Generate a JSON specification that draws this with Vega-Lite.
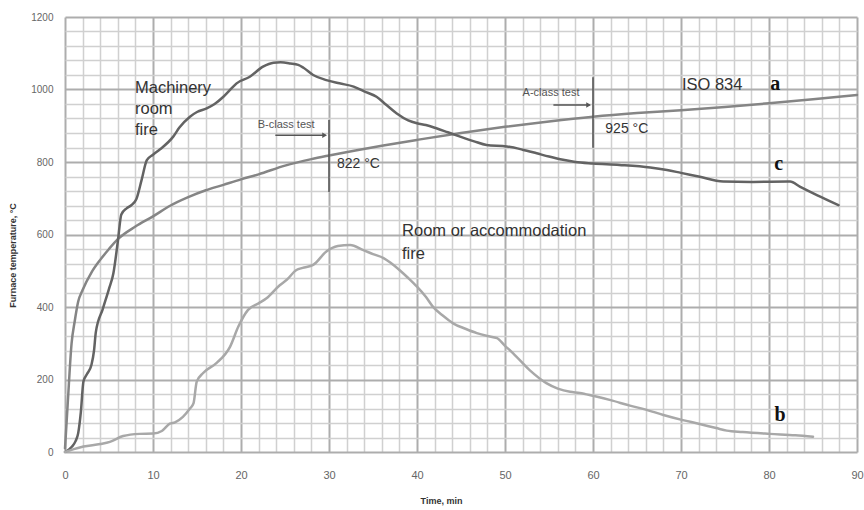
{
  "$schema": "https://vega.github.io/schema/vega-lite/v6.json",
  "width": 792,
  "height": 435,
  "autosize": {"type": "none"},
  "padding": {"left": 65, "top": 17, "right": 7, "bottom": 58},
  "background": "white",
  "config": {"view": {"stroke": null}, "font": "Liberation Sans"},
  "datasets": {
    "curves": [
      {"series": "a", "t": 0, "T": 10}, {"series": "a", "t": 0.3, "T": 130}, {"series": "a", "t": 0.75, "T": 300}, {"series": "a", "t": 1.1, "T": 360}, {"series": "a", "t": 1.5, "T": 415}, {"series": "a", "t": 2, "T": 447}, {"series": "a", "t": 3, "T": 495}, {"series": "a", "t": 4, "T": 530}, {"series": "a", "t": 5, "T": 560}, {"series": "a", "t": 6, "T": 587}, {"series": "a", "t": 8, "T": 622}, {"series": "a", "t": 10, "T": 650}, {"series": "a", "t": 12, "T": 680}, {"series": "a", "t": 14, "T": 703}, {"series": "a", "t": 16, "T": 722}, {"series": "a", "t": 18, "T": 737}, {"series": "a", "t": 20, "T": 752}, {"series": "a", "t": 22, "T": 766}, {"series": "a", "t": 25, "T": 790}, {"series": "a", "t": 28, "T": 808}, {"series": "a", "t": 30, "T": 818}, {"series": "a", "t": 33, "T": 832}, {"series": "a", "t": 36, "T": 845}, {"series": "a", "t": 40, "T": 861}, {"series": "a", "t": 45, "T": 880}, {"series": "a", "t": 50, "T": 897}, {"series": "a", "t": 55, "T": 912}, {"series": "a", "t": 60, "T": 925}, {"series": "a", "t": 65, "T": 935}, {"series": "a", "t": 70, "T": 943}, {"series": "a", "t": 75, "T": 952}, {"series": "a", "t": 80, "T": 962}, {"series": "a", "t": 85, "T": 973}, {"series": "a", "t": 90, "T": 985},
      {"series": "c", "t": 0, "T": 0}, {"series": "c", "t": 0.5, "T": 8}, {"series": "c", "t": 0.8, "T": 15}, {"series": "c", "t": 1.2, "T": 30}, {"series": "c", "t": 1.5, "T": 52}, {"series": "c", "t": 1.8, "T": 110}, {"series": "c", "t": 2.1, "T": 195}, {"series": "c", "t": 2.5, "T": 215}, {"series": "c", "t": 3.0, "T": 240}, {"series": "c", "t": 3.3, "T": 280}, {"series": "c", "t": 3.5, "T": 330}, {"series": "c", "t": 4.3, "T": 395}, {"series": "c", "t": 5.0, "T": 450}, {"series": "c", "t": 5.5, "T": 493}, {"series": "c", "t": 6.0, "T": 580}, {"series": "c", "t": 6.4, "T": 655}, {"series": "c", "t": 7.0, "T": 672}, {"series": "c", "t": 7.5, "T": 680}, {"series": "c", "t": 8.1, "T": 697}, {"series": "c", "t": 8.7, "T": 750}, {"series": "c", "t": 9.3, "T": 805}, {"series": "c", "t": 10, "T": 820}, {"series": "c", "t": 10.8, "T": 835}, {"series": "c", "t": 12.3, "T": 870}, {"series": "c", "t": 13, "T": 895}, {"series": "c", "t": 14.2, "T": 925}, {"series": "c", "t": 15, "T": 938}, {"series": "c", "t": 16.1, "T": 948}, {"series": "c", "t": 17, "T": 960}, {"series": "c", "t": 18, "T": 980}, {"series": "c", "t": 19, "T": 1005}, {"series": "c", "t": 19.5, "T": 1017}, {"series": "c", "t": 21, "T": 1035}, {"series": "c", "t": 22.5, "T": 1063}, {"series": "c", "t": 23.7, "T": 1074}, {"series": "c", "t": 24.5, "T": 1075}, {"series": "c", "t": 25.6, "T": 1072}, {"series": "c", "t": 26.5, "T": 1068}, {"series": "c", "t": 27.1, "T": 1060}, {"series": "c", "t": 28.2, "T": 1040}, {"series": "c", "t": 29.7, "T": 1026}, {"series": "c", "t": 31.2, "T": 1017}, {"series": "c", "t": 32.8, "T": 1008}, {"series": "c", "t": 34, "T": 995}, {"series": "c", "t": 35.4, "T": 980}, {"series": "c", "t": 36.5, "T": 958}, {"series": "c", "t": 37.7, "T": 934}, {"series": "c", "t": 39, "T": 915}, {"series": "c", "t": 40, "T": 907}, {"series": "c", "t": 41, "T": 902}, {"series": "c", "t": 42.2, "T": 893}, {"series": "c", "t": 43.5, "T": 882}, {"series": "c", "t": 44.9, "T": 870}, {"series": "c", "t": 46.5, "T": 857}, {"series": "c", "t": 47.9, "T": 847}, {"series": "c", "t": 50.2, "T": 843}, {"series": "c", "t": 52, "T": 834}, {"series": "c", "t": 53.6, "T": 824}, {"series": "c", "t": 55, "T": 815}, {"series": "c", "t": 56.6, "T": 806}, {"series": "c", "t": 58, "T": 800}, {"series": "c", "t": 60, "T": 796}, {"series": "c", "t": 63, "T": 792}, {"series": "c", "t": 66.5, "T": 785}, {"series": "c", "t": 68.4, "T": 778}, {"series": "c", "t": 70, "T": 770}, {"series": "c", "t": 72, "T": 760}, {"series": "c", "t": 74.8, "T": 746}, {"series": "c", "t": 78, "T": 745}, {"series": "c", "t": 82.4, "T": 746}, {"series": "c", "t": 83.5, "T": 732}, {"series": "c", "t": 85.5, "T": 708}, {"series": "c", "t": 87.9, "T": 681},
      {"series": "b", "t": 0, "T": 0}, {"series": "b", "t": 1, "T": 8}, {"series": "b", "t": 2.1, "T": 15}, {"series": "b", "t": 4, "T": 22}, {"series": "b", "t": 5.1, "T": 28}, {"series": "b", "t": 6.6, "T": 44}, {"series": "b", "t": 8.5, "T": 50}, {"series": "b", "t": 10, "T": 51}, {"series": "b", "t": 11, "T": 58}, {"series": "b", "t": 11.9, "T": 78}, {"series": "b", "t": 12.5, "T": 82}, {"series": "b", "t": 13.4, "T": 97}, {"series": "b", "t": 14.2, "T": 120}, {"series": "b", "t": 14.6, "T": 134}, {"series": "b", "t": 14.97, "T": 194}, {"series": "b", "t": 15.7, "T": 218}, {"series": "b", "t": 17.2, "T": 245}, {"series": "b", "t": 18.75, "T": 290}, {"series": "b", "t": 19.7, "T": 346}, {"series": "b", "t": 20.8, "T": 392}, {"series": "b", "t": 22, "T": 410}, {"series": "b", "t": 22.9, "T": 424}, {"series": "b", "t": 24.4, "T": 460}, {"series": "b", "t": 25.2, "T": 475}, {"series": "b", "t": 26.3, "T": 502}, {"series": "b", "t": 27, "T": 508}, {"series": "b", "t": 28.2, "T": 516}, {"series": "b", "t": 29.7, "T": 553}, {"series": "b", "t": 31, "T": 568}, {"series": "b", "t": 32.4, "T": 571}, {"series": "b", "t": 33.9, "T": 557}, {"series": "b", "t": 35, "T": 546}, {"series": "b", "t": 36.2, "T": 535}, {"series": "b", "t": 37, "T": 522}, {"series": "b", "t": 38.1, "T": 500}, {"series": "b", "t": 39, "T": 480}, {"series": "b", "t": 40, "T": 456}, {"series": "b", "t": 41, "T": 428}, {"series": "b", "t": 41.8, "T": 401}, {"series": "b", "t": 43, "T": 375}, {"series": "b", "t": 44.1, "T": 355}, {"series": "b", "t": 45.5, "T": 340}, {"series": "b", "t": 46.8, "T": 328}, {"series": "b", "t": 48, "T": 320}, {"series": "b", "t": 49.1, "T": 314}, {"series": "b", "t": 50, "T": 293}, {"series": "b", "t": 50.9, "T": 273}, {"series": "b", "t": 52.8, "T": 226}, {"series": "b", "t": 54.7, "T": 190}, {"series": "b", "t": 56, "T": 175}, {"series": "b", "t": 57.4, "T": 166}, {"series": "b", "t": 58.5, "T": 163}, {"series": "b", "t": 60, "T": 155}, {"series": "b", "t": 62, "T": 143}, {"series": "b", "t": 64.2, "T": 128}, {"series": "b", "t": 66, "T": 117}, {"series": "b", "t": 68, "T": 102}, {"series": "b", "t": 70.2, "T": 88}, {"series": "b", "t": 72, "T": 78}, {"series": "b", "t": 74, "T": 66}, {"series": "b", "t": 75.2, "T": 59}, {"series": "b", "t": 77, "T": 55}, {"series": "b", "t": 80.1, "T": 50}, {"series": "b", "t": 83, "T": 46}, {"series": "b", "t": 85, "T": 42}
    ],
    "labels": [
      {"kind": "big", "t": 7.95, "T": 1004, "text": "Machinery"},
      {"kind": "big", "t": 7.95, "T": 946, "text": "room"},
      {"kind": "big", "t": 7.95, "T": 888, "text": "fire"},
      {"kind": "big", "t": 38.3, "T": 610, "text": "Room or accommodation"},
      {"kind": "big", "t": 38.3, "T": 546, "text": "fire"},
      {"kind": "big", "t": 70.1, "T": 1012, "text": "ISO 834"},
      {"kind": "temp", "t": 30.9, "T": 795, "text": "822 °C"},
      {"kind": "temp", "t": 61.4, "T": 891, "text": "925 °C"},
      {"kind": "small", "t": 21.9, "T": 902, "text": "B-class test"},
      {"kind": "small", "t": 52.0, "T": 990, "text": "A-class test"},
      {"kind": "letter", "t": 80.7, "T": 1015, "text": "a"},
      {"kind": "letter", "t": 81.1, "T": 795, "text": "c"},
      {"kind": "letter", "t": 81.25, "T": 102, "text": "b"}
    ],
    "markers": [
      {"t": 30, "t2": 30, "T": 916, "T2": 717},
      {"t": 60, "t2": 60, "T": 1034, "T2": 839},
      {"t": 23.9, "t2": 29.6, "T": 874, "T2": 874},
      {"t": 55.5, "t2": 59.6, "T": 957, "T2": 957}
    ],
    "heads": [
      {"t": 29.5, "T": 874},
      {"t": 59.5, "T": 957}
    ]
  },
  "layer": [
    {
      "data": {"name": "curves"},
      "mark": {"type": "line", "interpolate": "monotone", "strokeCap": "round"},
      "encoding": {
        "x": {
          "field": "t", "type": "quantitative",
          "scale": {"domain": [0, 90], "nice": false},
          "axis": {
            "values": [0,2,4,6,8,10,12,14,16,18,20,22,24,26,28,30,32,34,36,38,40,42,44,46,48,50,52,54,56,58,60,62,64,66,68,70,72,74,76,78,80,82,84,86,88,90],
            "tickCount": 200,
            "format": "d",
            "labelOverlap": false,
            "labelFlush": false,
            "grid": true,
            "gridColor": {"condition": {"test": "datum.value % 10 === 0", "value": "#adadad"}, "value": "#d0d0d0"},
            "gridWidth": {"condition": {"test": "datum.value % 10 === 0", "value": 2}, "value": 1.5},
            "labelExpr": "datum.value % 10 === 0 ? datum.label : ''",
            "ticks": false, "domain": false,
            "labelFontSize": 11, "labelColor": "#666", "labelPadding": 17,
            "title": "Time, min", "titleFontSize": 9, "titleFontWeight": "bold", "titleColor": "#333",
            "titleX": 376, "titleY": 48, "titleBaseline": "middle"
          }
        },
        "y": {
          "field": "T", "type": "quantitative",
          "scale": {"domain": [0, 1200], "nice": false},
          "axis": {
            "values": [0,40,80,120,160,200,240,280,320,360,400,440,480,520,560,600,640,680,720,760,800,840,880,920,960,1000,1040,1080,1120,1160,1200],
            "tickCount": 200,
            "labelOverlap": false,
            "labelFlush": false,
            "grid": true,
            "gridColor": {"condition": {"test": "datum.value % 200 === 0", "value": "#adadad"}, "value": "#d0d0d0"},
            "gridWidth": {"condition": {"test": "datum.value % 200 === 0", "value": 2}, "value": 1.5},
            "labelExpr": "datum.value % 200 === 0 ? datum.label : ''",
            "format": "d",
            "ticks": false, "domain": false,
            "labelFontSize": 10, "labelColor": "#666", "labelPadding": 12,
            "title": "Furnace temperature, °C", "titleFontSize": 9, "titleFontWeight": "bold", "titleColor": "#333",
            "titleX": -53, "titleY": 238, "titleAlign": "center", "titleBaseline": "middle"
          }
        },
        "detail": {"field": "series"},
        "color": {"field": "series", "type": "nominal", "scale": {"domain": ["a", "b", "c"], "range": ["#858585", "#a8a8a8", "#636363"]}, "legend": null},
        "strokeWidth": {"field": "series", "type": "nominal", "scale": {"domain": ["a", "b", "c"], "range": [2.5, 2.5, 3]}, "legend": null}
      }
    },
    {
      "data": {"name": "markers"},
      "mark": {"type": "rule", "color": "#555", "strokeWidth": 1.5},
      "encoding": {
        "x": {"field": "t", "type": "quantitative"},
        "x2": {"field": "t2"},
        "y": {"field": "T", "type": "quantitative"},
        "y2": {"field": "T2"}
      }
    },
    {
      "data": {"name": "heads"},
      "mark": {"type": "point", "shape": "triangle-right", "filled": true, "color": "#555", "size": 30, "opacity": 1},
      "encoding": {
        "x": {"field": "t", "type": "quantitative"},
        "y": {"field": "T", "type": "quantitative"}
      }
    },
    {
      "data": {"name": "labels"},
      "transform": [{"filter": "datum.kind === 'big'"}],
      "mark": {"type": "text", "align": "left", "baseline": "middle", "fontSize": 16.5, "color": "#333", "font": "Liberation Sans"},
      "encoding": {
        "x": {"field": "t", "type": "quantitative"},
        "y": {"field": "T", "type": "quantitative"},
        "text": {"field": "text"}
      }
    },
    {
      "data": {"name": "labels"},
      "transform": [{"filter": "datum.kind === 'temp'"}],
      "mark": {"type": "text", "align": "left", "baseline": "middle", "fontSize": 14, "color": "#333", "font": "Liberation Sans"},
      "encoding": {
        "x": {"field": "t", "type": "quantitative"},
        "y": {"field": "T", "type": "quantitative"},
        "text": {"field": "text"}
      }
    },
    {
      "data": {"name": "labels"},
      "transform": [{"filter": "datum.kind === 'small'"}],
      "mark": {"type": "text", "align": "left", "baseline": "middle", "fontSize": 11, "color": "#555", "font": "Liberation Sans"},
      "encoding": {
        "x": {"field": "t", "type": "quantitative"},
        "y": {"field": "T", "type": "quantitative"},
        "text": {"field": "text"}
      }
    },
    {
      "data": {"name": "labels"},
      "transform": [{"filter": "datum.kind === 'letter'"}],
      "mark": {"type": "text", "align": "center", "baseline": "middle", "fontSize": 20, "fontWeight": "bold", "color": "#111", "font": "Liberation Serif"},
      "encoding": {
        "x": {"field": "t", "type": "quantitative"},
        "y": {"field": "T", "type": "quantitative"},
        "text": {"field": "text"}
      }
    }
  ]
}
